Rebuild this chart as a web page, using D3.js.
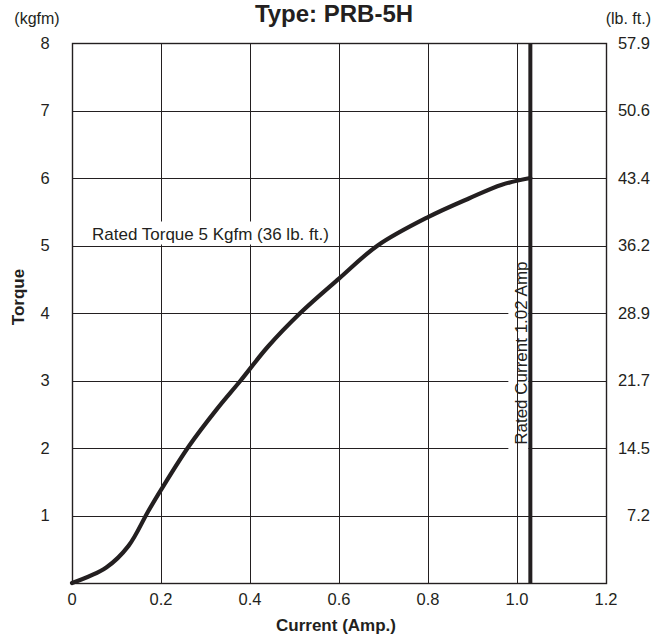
<!DOCTYPE html>
<html>
<head>
<meta charset="utf-8">
<script src="https://cdn.jsdelivr.net/npm/d3@7/dist/d3.min.js"></script>
<style>
  html, body { margin: 0; padding: 0; background: #fff; }
  svg { display: block; }
  text { font-family: "Liberation Sans", Arial, Helvetica, sans-serif; fill: #231f20; }
</style>
</head>
<body>
<svg id="chart" width="652" height="639"></svg>
<script>
// ---- data ----
const currentAmp = [0, 0.077, 0.127, 0.171, 0.2, 0.263, 0.326, 0.379, 0.44, 0.513, 0.6, 0.687, 0.8, 0.893, 0.966, 1.03];
const torqueKgfm = [0, 0.23, 0.55, 1.06, 1.38, 2.03, 2.58, 3.0, 3.5, 4.0, 4.51, 5.0, 5.42, 5.7, 5.9, 6.0];
const xTicks = [0, 0.2, 0.4, 0.6, 0.8, 1.0, 1.2];
const xTickLabels = ["0", "0.2", "0.4", "0.6", "0.8", "1.0", "1.2"];
const yTicks = [1, 2, 3, 4, 5, 6, 7, 8];
const yTickLabels = ["1", "2", "3", "4", "5", "6", "7", "8"];
const yRightLabels = ["7.2", "14.5", "21.7", "28.9", "36.2", "43.4", "50.6", "57.9"];
const ratedCurrent = [1.03];
const ratedTorque = [5];

const title = "Type: PRB-5H";
const xTitle = "Current (Amp.)";
const yTitle = "Torque";
const ratedTorqueLabel = "Rated Torque 5 Kgfm (36 lb. ft.)";
const ratedCurrentLabel = "Rated Current 1.02 Amp";

// ---- layout ----
const svg = d3.select("#chart");
const L = 72, R = 606, T = 43, B = 583;
const x = d3.scaleLinear().domain([0, 1.2]).range([L, R]);
const y = d3.scaleLinear().domain([0, 8]).range([B, T]);
const px = v => Math.round(v) + 0.5;
const ink = "#231f20";

// horizontal grid
svg.append("g").selectAll("line").data(yTicks.slice(0, -1)).join("line")
  .attr("x1", L).attr("x2", R)
  .attr("y1", d => px(y(d))).attr("y2", d => px(y(d)))
  .attr("stroke", ink).attr("stroke-width", 1);

// white box behind vertical rated-current label
svg.append("rect")
  .attr("x", x(ratedCurrent[0]) - 22).attr("y", y(ratedTorque[0]) + 10)
  .attr("width", 20).attr("height", 196)
  .attr("fill", "#fff");

// vertical grid
svg.append("g").selectAll("line").data(xTicks.slice(1, -1)).join("line")
  .attr("x1", d => px(x(d))).attr("x2", d => px(x(d)))
  .attr("y1", T).attr("y2", B)
  .attr("stroke", ink).attr("stroke-width", 1);

// white box behind rated torque label
svg.append("rect")
  .attr("x", L + 1).attr("y", y(ratedTorque[0]) - 24)
  .attr("width", x(0.6) - L - 3).attr("height", 23)
  .attr("fill", "#fff");

svg.append("text")
  .attr("x", 92).attr("y", y(ratedTorque[0]) - 6)
  .attr("font-size", 17)
  .text(ratedTorqueLabel);

svg.append("text")
  .attr("transform", `translate(${x(ratedCurrent[0]) - 3.5},${y(ratedTorque[0]) + 16}) rotate(-90)`)
  .attr("text-anchor", "end")
  .attr("font-size", 17)
  .text(ratedCurrentLabel);

// border
svg.append("rect")
  .attr("x", L + 0.5).attr("y", T + 0.5).attr("width", R - L).attr("height", B - T)
  .attr("fill", "none").attr("stroke", ink).attr("stroke-width", 1.4);

// rated current thick line
svg.append("line")
  .attr("x1", x(ratedCurrent[0])).attr("x2", x(ratedCurrent[0]))
  .attr("y1", T).attr("y2", B)
  .attr("stroke", ink).attr("stroke-width", 4);

// curve
const pts = currentAmp.map((c, i) => [c, torqueKgfm[i]]);
svg.append("path")
  .datum(pts)
  .attr("d", d3.line().x(d => x(d[0])).y(d => y(d[1])).curve(d3.curveCatmullRom.alpha(0.5)))
  .attr("fill", "none").attr("stroke", ink).attr("stroke-width", 4.2)
  .attr("stroke-linecap", "round");

// left tick labels
svg.append("g").selectAll("text").data(yTicks).join("text")
  .attr("x", 45).attr("y", d => y(d)).attr("dy", "0.36em")
  .attr("text-anchor", "middle").attr("font-size", 16.5)
  .text((d, i) => yTickLabels[i]);

// right tick labels
svg.append("g").selectAll("text").data(yTicks).join("text")
  .attr("x", 650).attr("y", d => y(d)).attr("dy", "0.36em")
  .attr("text-anchor", "end").attr("font-size", 16.5)
  .text((d, i) => yRightLabels[i]);

// bottom tick labels
svg.append("g").selectAll("text").data(xTicks).join("text")
  .attr("x", d => x(d)).attr("y", 605)
  .attr("text-anchor", "middle").attr("font-size", 16.5)
  .text((d, i) => xTickLabels[i]);

// titles
svg.append("text").attr("x", 334).attr("y", 22)
  .attr("text-anchor", "middle").attr("font-size", 24).attr("font-weight", "bold")
  .text(title);
svg.append("text").attr("x", 37).attr("y", 24)
  .attr("text-anchor", "middle").attr("font-size", 16)
  .text("(kgfm)");
svg.append("text").attr("x", 651).attr("y", 24)
  .attr("text-anchor", "end").attr("font-size", 16)
  .text("(lb. ft.)");
svg.append("text").attr("x", 336).attr("y", 631)
  .attr("text-anchor", "middle").attr("font-size", 17).attr("font-weight", "bold")
  .text(xTitle);
svg.append("text")
  .attr("transform", "translate(24,297) rotate(-90)")
  .attr("text-anchor", "middle").attr("font-size", 17).attr("font-weight", "bold")
  .text(yTitle);
</script>
</body>
</html>
